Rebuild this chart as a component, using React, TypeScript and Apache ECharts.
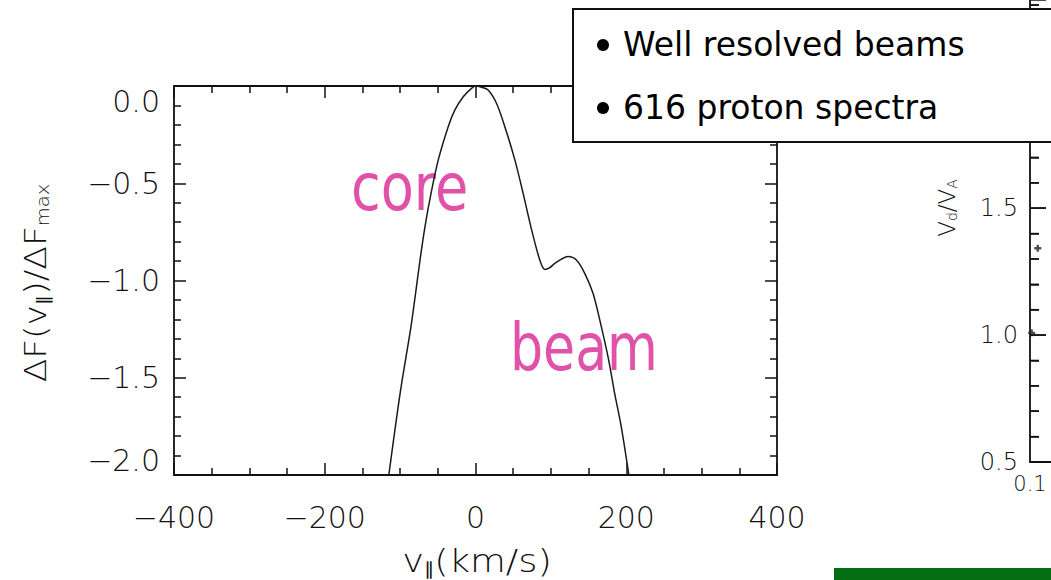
import React, { useEffect, useRef } from 'react';
import * as echarts from 'echarts';

// Left panel: core + beam proton distribution
const vPar = [-115, -100, -85.6, -79.5, -73.6, -67, -59, -49.4, -36.2, -27.3, -16.3, -5.3, 0, 8, 16.8, 27.8, 38.9, 52.2, 63.2, 73.4, 85.3, 91.9, 98, 105.2, 114, 122.8, 133.8, 144.9, 155.9, 166.9, 176.7, 184.6, 193.4, 203.5];
const dF = [-2.0, -1.58, -1.237, -1.066, -0.895, -0.723, -0.552, -0.38, -0.209, -0.123, -0.055, -0.012, 0, -0.006, -0.021, -0.089, -0.209, -0.38, -0.552, -0.723, -0.895, -0.943, -0.935, -0.912, -0.89, -0.877, -0.895, -0.963, -1.066, -1.237, -1.409, -1.58, -1.752, -2.0];

const xTicks = [-400, -200, 0, 200, 400];
const yTicks = [-2.0, -1.5, -1.0, -0.5, 0.0];

// Right (cut-off) panel
const rightX = [0.137, 0.108];
const rightY = [1.342, 1.009];
const rightYMin = 0.5;
const rightYMax = 2.32;
const rightXMin = 0.1;
const rightXMax = 0.2;
const rightMajorTicks = [0.5, 1.0, 1.5, 2.0];
const rightMinorTicks = [0.6, 0.7, 0.8, 0.9, 1.1, 1.2, 1.3, 1.4, 1.6, 1.7, 1.8, 1.9, 2.1, 2.2, 2.3];

const bullets = ['Well resolved beams', '616 proton spectra'];
const labels = ['core', 'beam'];

const FONT = '"DejaVu Sans", Verdana, sans-serif';
const AX = '#111';

const fmtSigned = (v: number, d: number) => (v < 0 ? '\u2212' : '') + Math.abs(v).toFixed(d);

export default function App() {
  const ref = useRef<HTMLDivElement>(null);
  useEffect(() => {
    if (!ref.current) return;
    const chart = echarts.init(ref.current, undefined, { renderer: 'svg' });
    const tickCommon = (len: number, minLen: number, split: number) => ({
      axisTick: { show: true, inside: true, length: len, lineStyle: { color: AX, width: 1.5 } },
      minorTick: { show: true, splitNumber: split, length: minLen, lineStyle: { color: AX, width: 1.5 } },
      splitLine: { show: false },
      axisLine: { show: true, onZero: false, lineStyle: { color: AX, width: 1.8 } },
    });
    const labelStyle = { fontFamily: FONT, fontWeight: 200 as any, color: AX };
    const graphics: any[] = [
      // annotations under the curve
      {
        type: 'text', x: 351, y: 187, scaleX: 0.82, z: 1,
        style: { text: labels[0], font: `66px ${FONT}`, fill: '#e052a8', align: 'left', verticalAlign: 'middle' },
      },
      {
        type: 'text', x: 510, y: 347, scaleX: 0.79, z: 1,
        style: { text: labels[1], font: `66px ${FONT}`, fill: '#e052a8', align: 'left', verticalAlign: 'middle' },
      },
      // axis titles
      {
        type: 'text', x: 477, y: 561, scaleX: 1.15, z: 5,
        style: {
          text: '{m|v}{s|\u2225}{m|(km/s)}', align: 'center', verticalAlign: 'middle',
          rich: {
            m: { fontFamily: FONT, fontWeight: 200, fontSize: 32, fill: AX, color: AX, verticalAlign: 'top', lineHeight: 33, padding: [0, 0, 7, 0] },
            s: { fontFamily: FONT, fontWeight: 200, fontSize: 18, fill: AX, color: AX, verticalAlign: 'bottom', lineHeight: 18 },
          },
        },
      },
      {
        type: 'text', x: 36, y: 283, rotation: Math.PI / 2, scaleX: 1.15, z: 5,
        style: {
          text: '{m|\u0394F(v}{s|\u2225}{m|)/\u0394F}{s|max}', align: 'center', verticalAlign: 'middle',
          rich: {
            m: { fontFamily: FONT, fontWeight: 200, fontSize: 30, fill: AX, color: AX, verticalAlign: 'top', lineHeight: 31, padding: [0, 0, 6, 0] },
            s: { fontFamily: FONT, fontWeight: 200, fontSize: 17, fill: AX, color: AX, verticalAlign: 'bottom', lineHeight: 17 },
          },
        },
      },
      {
        type: 'text', x: 947, y: 208, rotation: Math.PI / 2, z: 5,
        style: {
          text: '{m|V}{s|d}{m|/V}{s|A}', align: 'center', verticalAlign: 'middle',
          rich: {
            m: { fontFamily: FONT, fontWeight: 200, fontSize: 23, fill: AX, color: AX, verticalAlign: 'top', lineHeight: 24, padding: [0, 0, 4, 0] },
            s: { fontFamily: FONT, fontWeight: 200, fontSize: 14, fill: AX, color: AX, verticalAlign: 'bottom', lineHeight: 14 },
          },
        },
      },
      // bullet box
      {
        type: 'rect', z: 100, shape: { x: 573, y: 9, width: 500, height: 133 },
        style: { fill: '#fff', stroke: '#111', lineWidth: 2 },
      },
      { type: 'circle', z: 101, shape: { cx: 603, cy: 45, r: 6 }, style: { fill: '#000' } },
      { type: 'circle', z: 101, shape: { cx: 603, cy: 108, r: 6 }, style: { fill: '#000' } },
      {
        type: 'text', z: 101, x: 623, y: 44,
        style: { text: bullets[0], font: `33px ${FONT}`, fill: '#000', align: 'left', verticalAlign: 'middle' },
      },
      {
        type: 'text', z: 101, x: 623, y: 107,
        style: { text: bullets[1], font: `33px ${FONT}`, fill: '#000', align: 'left', verticalAlign: 'middle' },
      },
      // green bar
      {
        type: 'rect', z: 100, shape: { x: 834, y: 568, width: 217, height: 12 },
        style: { fill: '#036e12' },
      },
    ];
    const option: any = {
      animation: false,
      backgroundColor: '#fff',
      grid: [
        { left: 174, top: 86, width: 603, height: 389, outerBoundsMode: 'none', containLabel: false },
        { left: 1030, top: 0, width: 21, height: 462, outerBoundsMode: 'none', containLabel: false },
      ],
      xAxis: [
        {
          type: 'value', gridIndex: 0, position: 'bottom', min: xTicks[0], max: xTicks[xTicks.length - 1], interval: 200,
          ...tickCommon(12, 7, 4),
          axisLabel: { ...labelStyle, fontSize: 30, margin: 27, formatter: (v: number) => fmtSigned(v, 0) },
        },
        {
          type: 'value', gridIndex: 0, position: 'top', min: -400, max: 400, interval: 200,
          ...tickCommon(12, 7, 4),
          axisLabel: { show: false },
        },
        {
          type: 'value', gridIndex: 1, position: 'bottom', min: rightXMin, max: rightXMax, interval: 0.1,
          axisLine: { show: true, onZero: false, lineStyle: { color: AX, width: 1.8 } },
          axisTick: { show: false },
          splitLine: { show: false },
          axisLabel: {
            ...labelStyle, fontSize: 21, margin: 11, showMaxLabel: false,
            formatter: (v: number) => (Math.abs(v - rightXMin) < 1e-9 ? String(rightXMin) : ''),
          },
        },
      ],
      yAxis: [
        {
          type: 'value', gridIndex: 0, position: 'left', min: yTicks[0], max: yTicks[yTicks.length - 1], interval: 0.5,
          ...tickCommon(12, 7, 5),
          axisLabel: {
            ...labelStyle, fontSize: 30, margin: 14, formatter: (v: number) => fmtSigned(v, 1),
            verticalAlignMinLabel: 'bottom', verticalAlignMaxLabel: 'top',
          },
        },
        {
          type: 'value', gridIndex: 0, position: 'right', min: -2, max: 0, interval: 0.5,
          ...tickCommon(12, 7, 5),
          axisLabel: { show: false },
        },
        {
          type: 'value', gridIndex: 1, position: 'left', min: rightYMin, max: rightYMax, interval: 0.5,
          ...tickCommon(16, 9, 5),
          axisLabel: { ...labelStyle, fontSize: 24, margin: 12, showMaxLabel: false, formatter: (v: number) => v.toFixed(1) },
        },
      ],
      series: [
        {
          type: 'line', xAxisIndex: 0, yAxisIndex: 0, data: vPar.map((v, i) => [v, dF[i]]),
          showSymbol: false, smooth: 0.3, clip: true, z: 3,
          lineStyle: { color: '#1a1a1a', width: 1.5 },
        },
        {
          type: 'scatter', xAxisIndex: 2, yAxisIndex: 2, data: rightX.map((v, i) => [v, rightY[i]]),
          symbol: 'path://M2,0H4V2H6V4H4V6H2V4H0V2H2Z', symbolSize: 7,
          itemStyle: { color: '#222' }, z: 3,
        },
      ],
      graphic: graphics,
    };
    chart.setOption(option);

    // inward ticks of the cut-off right panel, placed through the panel's own scale
    const tickEls: any[] = [];
    const addTick = (v: number, len: number) => {
      const p = chart.convertToPixel({ gridIndex: 1 } as any, [rightXMin, v]) as any;
      if (!p || !isFinite(p[0]) || !isFinite(p[1])) return;
      tickEls.push({
        type: 'line', z: 50, silent: true,
        shape: { x1: p[0], y1: p[1], x2: p[0] + len, y2: p[1] },
        style: { stroke: AX, lineWidth: 1.5 },
      });
    };
    rightMajorTicks.forEach((v) => addTick(v, 16));
    rightMinorTicks.forEach((v) => addTick(v, 9));
    chart.setOption({ graphic: [...graphics, ...tickEls] });

    return () => chart.dispose();
  }, []);
  return (
    <div
      ref={ref}
      style={{ position: 'fixed', left: 0, top: 0, width: 1051, height: 580, background: '#fff' }}
    />
  );
}
